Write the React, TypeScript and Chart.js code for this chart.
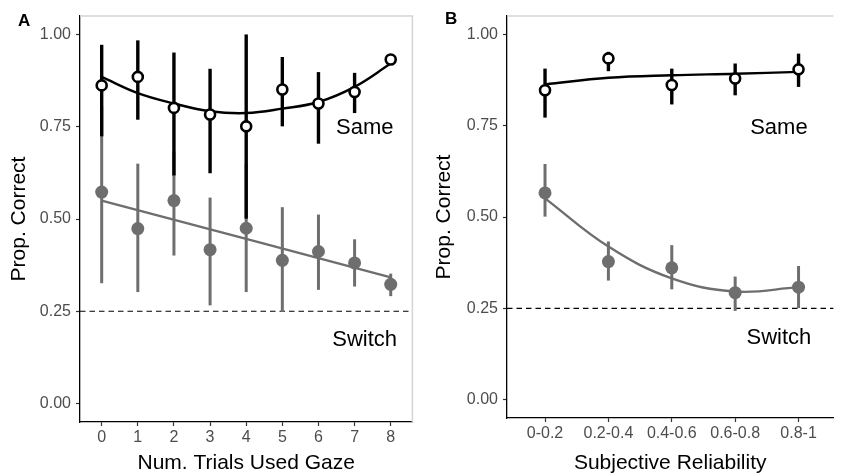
import React, { useEffect, useRef } from "react";
import { Chart, registerables } from "chart.js";

Chart.register(...registerables);

// ---------- Data ----------
// Panel A: Num. Trials Used Gaze
const gazeTrials = [0, 1, 2, 3, 4, 5, 6, 7, 8];
const gazeTickLabels = ["0", "1", "2", "3", "4", "5", "6", "7", "8"];
const gazeSameMean = [0.862, 0.885, 0.801, 0.783, 0.751, 0.851, 0.813, 0.844, 0.932];
const gazeSameLow = [0.724, 0.769, 0.618, 0.624, 0.501, 0.751, 0.704, 0.787, 0.92];
const gazeSameHigh = [0.972, 0.984, 0.951, 0.907, 1.0, 0.939, 0.898, 0.896, 0.942];
const gazeSameFit = [0.885, 0.841, 0.813, 0.792, 0.787, 0.799, 0.817, 0.858, 0.921];
const gazeSwitchMean = [0.573, 0.474, 0.55, 0.417, 0.475, 0.388, 0.412, 0.381, 0.323];
const gazeSwitchLow = [0.326, 0.302, 0.401, 0.266, 0.302, 0.248, 0.308, 0.317, 0.291];
const gazeSwitchHigh = [0.805, 0.65, 0.683, 0.558, 0.65, 0.532, 0.512, 0.445, 0.352];
const gazeSwitchFitX = [0, 8];
const gazeSwitchFit = [0.55, 0.342];

// Panel B: Subjective Reliability
const reliabilityBins = [0, 1, 2, 3, 4];
const reliabilityTickLabels = ["0-0.2", "0.2-0.4", "0.4-0.6", "0.6-0.8", "0.8-1"];
const relSameMean = [0.847, 0.934, 0.861, 0.879, 0.904];
const relSameLow = [0.772, 0.899, 0.808, 0.833, 0.856];
const relSameHigh = [0.906, 0.952, 0.906, 0.92, 0.947];
const relSameFit = [0.863, 0.881, 0.888, 0.892, 0.897];
const relSwitchMean = [0.566, 0.378, 0.361, 0.293, 0.308];
const relSwitchLow = [0.501, 0.326, 0.302, 0.243, 0.251];
const relSwitchHigh = [0.645, 0.433, 0.423, 0.337, 0.366];
const relSwitchFit = [0.551, 0.419, 0.332, 0.296, 0.308];

const yTickValues = [0, 0.25, 0.5, 0.75, 1];
const chanceLevel = 0.25;

// ---------- Styles ----------
const FONT = "'Liberation Sans', Arial, Helvetica, sans-serif";
const GRAY = "#6e6e6e";
const TICK_COLOR = "#4d4d4d";

type PanelSpec = {
  letter: string;
  xTitle: string;
  x: number[];
  tickLabels: string[];
  sameMean: number[];
  sameLow: number[];
  sameHigh: number[];
  sameFitX: number[];
  sameFit: number[];
  switchMean: number[];
  switchLow: number[];
  switchHigh: number[];
  switchFitX: number[];
  switchFit: number[];
  xMin: number;
  xMax: number;
  sameLabelPos: [number, number];
  switchLabelPos: [number, number];
  canvasLeft: number;
  canvasWidth: number;
  yAxisWidth: number;
  xAxisHeight: number;
  rightPad: number;
  drawRightBorder: boolean;
  letterPos: [number, number];
};

const panelA: PanelSpec = {
  letter: "A",
  xTitle: "Num. Trials Used Gaze",
  x: gazeTrials,
  tickLabels: gazeTickLabels,
  sameMean: gazeSameMean,
  sameLow: gazeSameLow,
  sameHigh: gazeSameHigh,
  sameFitX: gazeTrials,
  sameFit: gazeSameFit,
  switchMean: gazeSwitchMean,
  switchLow: gazeSwitchLow,
  switchHigh: gazeSwitchHigh,
  switchFitX: gazeSwitchFitX,
  switchFit: gazeSwitchFit,
  xMin: -0.6,
  xMax: 8.6,
  sameLabelPos: [7.28, 0.748],
  switchLabelPos: [7.28, 0.171],
  canvasLeft: 0,
  canvasWidth: 420,
  yAxisWidth: 80,
  xAxisHeight: 52,
  rightPad: 3,
  drawRightBorder: true,
  letterPos: [18, 26],
};

const panelB: PanelSpec = {
  letter: "B",
  xTitle: "Subjective Reliability",
  x: reliabilityBins,
  tickLabels: reliabilityTickLabels,
  sameMean: relSameMean,
  sameLow: relSameLow,
  sameHigh: relSameHigh,
  sameFitX: reliabilityBins,
  sameFit: relSameFit,
  switchMean: relSwitchMean,
  switchLow: relSwitchLow,
  switchHigh: relSwitchHigh,
  switchFitX: reliabilityBins,
  switchFit: relSwitchFit,
  xMin: -0.6,
  xMax: 4.55,
  sameLabelPos: [3.69, 0.745],
  switchLabelPos: [3.69, 0.169],
  canvasLeft: 425,
  canvasWidth: 416,
  yAxisWidth: 82,
  xAxisHeight: 56,
  rightPad: 0,
  drawRightBorder: false,
  letterPos: [20, 24],
};

const CANVAS_H = 474;

function pts(xs: number[], ys: number[]) {
  return xs.map((x, i) => ({ x, y: ys[i] }));
}

const decorPlugin = {
  id: "decor",
  beforeDatasetsDraw(chart: any, _args: any, opts: any) {
    const { ctx, chartArea, scales } = chart;
    const xs = scales.x;
    const ys = scales.y;
    ctx.save();
    // panel border (top, right)
    ctx.strokeStyle = "#d4d4d4";
    ctx.lineWidth = 1.5;
    ctx.beginPath();
    ctx.moveTo(chartArea.left, chartArea.top);
    ctx.lineTo(chartArea.right, chartArea.top);
    if (opts.rightBorder) {
      ctx.lineTo(chartArea.right, chartArea.bottom);
    }
    ctx.stroke();
    // chance line
    const yc = ys.getPixelForValue(opts.chance);
    ctx.strokeStyle = "#000";
    ctx.lineWidth = 1.2;
    ctx.setLineDash([5.5, 4]);
    ctx.beginPath();
    ctx.moveTo(chartArea.left, yc);
    ctx.lineTo(chartArea.right, yc);
    ctx.stroke();
    ctx.setLineDash([]);
    // error bars
    for (const s of opts.bars) {
      ctx.strokeStyle = s.color;
      ctx.lineWidth = s.width;
      ctx.lineCap = "butt";
      s.x.forEach((xv: number, i: number) => {
        const px = xs.getPixelForValue(xv);
        ctx.beginPath();
        ctx.moveTo(px, ys.getPixelForValue(s.low[i]));
        ctx.lineTo(px, ys.getPixelForValue(s.high[i]));
        ctx.stroke();
      });
    }
    ctx.restore();
  },
  afterDraw(chart: any, _args: any, opts: any) {
    const { ctx, scales } = chart;
    ctx.save();
    ctx.fillStyle = "#000";
    ctx.font = `22px ${FONT}`;
    ctx.textAlign = "center";
    ctx.textBaseline = "middle";
    for (const t of opts.texts) {
      ctx.fillText(t.text, scales.x.getPixelForValue(t.x), scales.y.getPixelForValue(t.y));
    }
    ctx.font = `bold 17px ${FONT}`;
    ctx.textAlign = "left";
    ctx.textBaseline = "alphabetic";
    ctx.fillText(opts.letter, opts.letterPos[0], opts.letterPos[1]);
    ctx.restore();
  },
};

function Panel({ spec }: { spec: PanelSpec }) {
  const ref = useRef<HTMLCanvasElement | null>(null);
  useEffect(() => {
    if (!ref.current) return;
    const p = spec;
    const chart = new Chart(ref.current, {
      type: "scatter",
      data: {
        datasets: [
          {
            type: "scatter",
            data: pts(p.x, p.sameMean),
            pointRadius: 5,
            pointHoverRadius: 5,
            pointBorderWidth: 2.6,
            pointBorderColor: "#000",
            pointBackgroundColor: "#fff",
          },
          {
            type: "line",
            data: pts(p.sameFitX, p.sameFit),
            borderColor: "#000",
            borderWidth: 2.4,
            pointRadius: 0,
            tension: 0.4,
            fill: false,
          },
          {
            type: "scatter",
            data: pts(p.x, p.switchMean),
            pointRadius: 6.5,
            pointHoverRadius: 6.5,
            pointBorderWidth: 0,
            pointBackgroundColor: GRAY,
            pointBorderColor: GRAY,
          },
          {
            type: "line",
            data: pts(p.switchFitX, p.switchFit),
            borderColor: GRAY,
            borderWidth: 2.4,
            pointRadius: 0,
            tension: 0.4,
            fill: false,
          },
        ] as any,
      },
      options: {
        animation: false,
        responsive: false,
        events: [],
        layout: { padding: { top: 16, right: p.rightPad, bottom: 0, left: 0 } },
        plugins: {
          legend: { display: false },
          tooltip: { enabled: false },
          decor: {
            rightBorder: p.drawRightBorder,
            chance: chanceLevel,
            letter: p.letter,
            letterPos: p.letterPos,
            bars: [
              { x: p.x, low: p.switchLow, high: p.switchHigh, color: GRAY, width: 3 },
              { x: p.x, low: p.sameLow, high: p.sameHigh, color: "#000", width: 3.4 },
            ],
            texts: [
              { text: "Same", x: p.sameLabelPos[0], y: p.sameLabelPos[1] },
              { text: "Switch", x: p.switchLabelPos[0], y: p.switchLabelPos[1] },
            ],
          },
        } as any,
        scales: {
          x: {
            type: "linear",
            min: p.xMin,
            max: p.xMax,
            afterBuildTicks: (s: any) => {
              s.ticks = p.x.map((v) => ({ value: v }));
            },
            afterFit: (s: any) => {
              s.height = p.xAxisHeight;
            },
            ticks: {
              autoSkip: false,
              maxRotation: 0,
              padding: 2,
              color: TICK_COLOR,
              font: { family: FONT, size: 16 },
              callback: (v: any) => p.tickLabels[Math.round(Number(v))] ?? "",
            },
            grid: {
              display: true,
              drawOnChartArea: false,
              drawTicks: true,
              tickLength: 4,
              tickColor: "#333",
              tickWidth: 1.2,
            },
            border: { display: true, color: "#000", width: 1.3 },
            title: {
              display: true,
              text: p.xTitle,
              color: "#000",
              font: { family: FONT, size: 21, lineHeight: 1 },
              padding: { top: 0, bottom: 0 },
            },
          },
          y: {
            type: "linear",
            min: -0.05,
            max: 1.05,
            afterBuildTicks: (s: any) => {
              s.ticks = yTickValues.map((v) => ({ value: v }));
            },
            afterFit: (s: any) => {
              s.width = p.yAxisWidth;
            },
            ticks: {
              padding: 5,
              color: TICK_COLOR,
              font: { family: FONT, size: 16 },
              callback: (v: any) => Number(v).toFixed(2),
            },
            grid: {
              display: true,
              drawOnChartArea: false,
              drawTicks: true,
              tickLength: 4,
              tickColor: "#333",
              tickWidth: 1.2,
            },
            border: { display: true, color: "#000", width: 1.3 },
            title: {
              display: true,
              text: "Prop. Correct",
              color: "#000",
              font: { family: FONT, size: 21, lineHeight: 1 },
              padding: { top: 8.5, bottom: 0 },
            },
          },
        },
      } as any,
      plugins: [decorPlugin as any],
    });
    return () => chart.destroy();
  }, [spec]);
  return (
    <canvas
      ref={ref}
      width={spec.canvasWidth}
      height={CANVAS_H}
      style={{
        position: "absolute",
        left: spec.canvasLeft,
        top: 0,
        width: spec.canvasWidth,
        height: CANVAS_H,
      }}
    />
  );
}

export default function App() {
  return (
    <div
      style={{
        position: "fixed",
        left: 0,
        top: 0,
        width: 841,
        height: CANVAS_H,
        background: "#fff",
        overflow: "hidden",
      }}
    >
      <Panel spec={panelA} />
      <Panel spec={panelB} />
    </div>
  );
}
